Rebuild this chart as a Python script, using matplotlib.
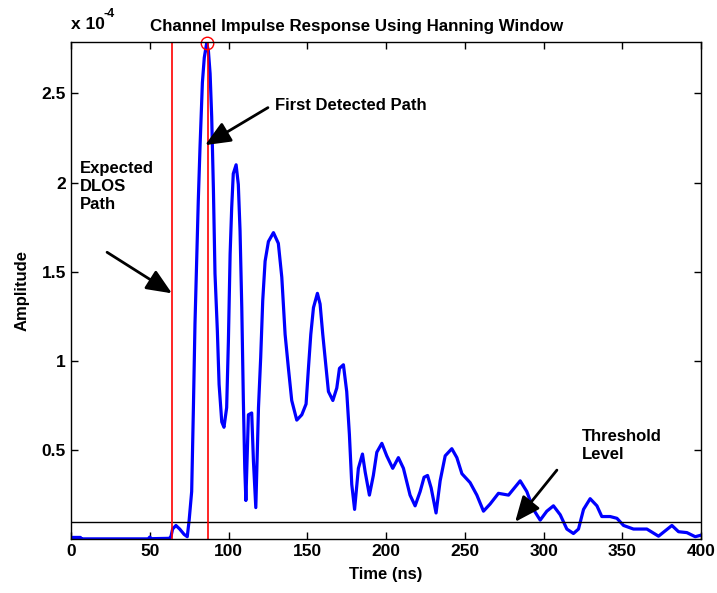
import matplotlib
matplotlib.use("Agg")
import matplotlib.pyplot as plt
import numpy as np
from matplotlib.ticker import FuncFormatter

# Time (ns) and amplitude (units of 1e-4)
time_ns = [0, 6, 6.5, 49, 50, 51, 62.5, 63.5, 64.5, 66.6, 69, 71.8, 73.8, 75,
           76.6, 77.7, 78.7, 79.8, 80.8, 81.9, 83.4, 84.6, 86.1, 87.2, 88.3,
           89.3, 90.4, 91.4, 92.9, 94.0, 95.7, 97.1, 98.8, 99.9, 101, 102, 103,
           104.8, 106.2, 107.3, 108.4, 109.4, 110.3, 111, 112.6, 114.7, 115.8,
           117.3, 119, 120.4, 121.7, 123.2, 125.3, 128.5, 131.6, 133.8, 135.9,
           138, 140.1, 143.3, 146.5, 149.2, 150.7, 152.2, 153.9, 156.4, 158.1,
           159.8, 161.9, 163.4, 166.2, 168.7, 170.4, 172.9, 175, 176.7, 178.2,
           180.0, 182.4, 185, 186.7, 189.4, 191.9, 194.1, 197.3, 200.4, 204.2,
           207.8, 211, 215.2, 218.4, 221.6, 224.1, 226.3, 228.6, 231.7, 234.3,
           237.5, 241.7, 244.9, 248.1, 253.3, 257.6, 261.8, 266, 271.3, 277.7,
           285.1, 289.3, 293.5, 297.8, 302, 306.2, 310.5, 314.7, 318.9, 322.1,
           325.3, 329.5, 333.8, 336.9, 342.2, 346.5, 350.7, 357, 365.5, 372.9,
           377.1, 381.4, 385.6, 390.9, 396.2, 400]
amp_e4 = [0.013, 0.013, 0.005, 0.005, 0.015, 0.006, 0.008, 0.02, 0.06, 0.08,
          0.06, 0.03, 0.017, 0.11, 0.27, 0.74, 1.21, 1.58, 1.90, 2.20, 2.56,
          2.70, 2.78, 2.74, 2.61, 2.37, 1.96, 1.49, 1.17, 0.87, 0.66, 0.63,
          0.74, 1.11, 1.60, 1.86, 2.05, 2.10, 1.99, 1.73, 1.30, 0.78, 0.40,
          0.22, 0.70, 0.71, 0.44, 0.18, 0.74, 1.02, 1.34, 1.56, 1.67, 1.72,
          1.66, 1.47, 1.15, 0.96, 0.78, 0.67, 0.70, 0.76, 0.96, 1.15, 1.30,
          1.38, 1.32, 1.15, 0.96, 0.83, 0.78, 0.85, 0.96, 0.98, 0.83, 0.59,
          0.31, 0.17, 0.40, 0.48, 0.38, 0.25, 0.36, 0.49, 0.54, 0.47, 0.40,
          0.46, 0.40, 0.25, 0.19, 0.27, 0.35, 0.36, 0.29, 0.15, 0.33, 0.47,
          0.51, 0.46, 0.37, 0.32, 0.25, 0.16, 0.20, 0.26, 0.25, 0.33, 0.27,
          0.17, 0.11, 0.16, 0.19, 0.14, 0.06, 0.035, 0.06, 0.17, 0.23, 0.19,
          0.13, 0.13, 0.12, 0.08, 0.06, 0.06, 0.02, 0.05, 0.08, 0.045, 0.04,
          0.017, 0.026]
scale = 1e-4
threshold = 0.1e-4
expected_dlos_ns = 64.3
first_path_ns = 86.8
peak_ns = 86.3
peak_amp = 2.78e-4
xticks = [0, 50, 100, 150, 200, 250, 300, 350, 400]
yticks = [0.5e-4, 1.0e-4, 1.5e-4, 2.0e-4, 2.5e-4]

amp = np.array(amp_e4) * scale

plt.rcParams['font.family'] = ['Liberation Sans', 'DejaVu Sans']
plt.rcParams['font.weight'] = 'bold'

fig = plt.figure(figsize=(7.17, 5.93), dpi=100)
ax = fig.add_axes([0.099, 0.091, 0.879, 0.838])

ax.plot(time_ns, amp, color='#0000ff', lw=2.3)
ax.axhline(threshold, color='black', lw=1.0)
ax.axvline(expected_dlos_ns, color='red', lw=1.2)
ax.axvline(first_path_ns, color='red', lw=1.2)
ax.plot([peak_ns], [peak_amp], 'o', mfc='none', mec='red', ms=9, mew=1.0,
        clip_on=False)

ax.set_xlim(0, 400)
ax.set_ylim(0.004e-4, 2.787e-4)
ax.set_xticks(xticks)
ax.set_yticks(yticks)
ax.yaxis.set_major_formatter(FuncFormatter(lambda v, p: f"{v / scale:g}"))
ax.text(0.0, 1.02, 'x 10', transform=ax.transAxes,
        fontsize=12.5, fontweight='bold', ha='left', va='bottom')
ax.text(0.051, 1.045, '-4', transform=ax.transAxes,
        fontsize=9, fontweight='bold', ha='left', va='bottom')

ax.tick_params(direction='in', length=5, top=True, right=True, labelsize=12.5,
               width=1.0)
for s in ax.spines.values():
    s.set_linewidth(1.0)

ax.set_title('Channel Impulse Response Using Hanning Window', fontsize=12.2,
             fontweight='bold', pad=8, x=0.454)
ax.set_xlabel('Time (ns)', fontsize=12, fontweight='bold', labelpad=6)
ax.set_ylabel('Amplitude', fontsize=12, fontweight='bold', labelpad=9)

arrow = dict(arrowstyle='-|>,head_length=0.7,head_width=0.3', lw=2.0,
             color='black', mutation_scale=22, shrinkA=0, shrinkB=0)
ax.annotate('', xy=(85.1, 2.21e-4), xytext=(125, 2.42e-4), arrowprops=arrow)
ax.text(129.5, 2.43e-4, 'First Detected Path', fontsize=12,
        fontweight='bold', va='center', ha='left')

ax.annotate('', xy=(64.1, 1.38e-4), xytext=(22.9, 1.61e-4), arrowprops=arrow)
ax.text(5.7, 2.12e-4, 'Expected\nDLOS\nPath', fontsize=12, fontweight='bold',
        va='top', ha='left', linespacing=1.25)

ax.annotate('', xy=(281.9, 0.10e-4), xytext=(308.4, 0.39e-4), arrowprops=arrow)
ax.text(324.4, 0.62e-4, 'Threshold\nLevel', fontsize=12, fontweight='bold',
        va='top', ha='left', linespacing=1.25)

fig.savefig('out.png', dpi=100)
